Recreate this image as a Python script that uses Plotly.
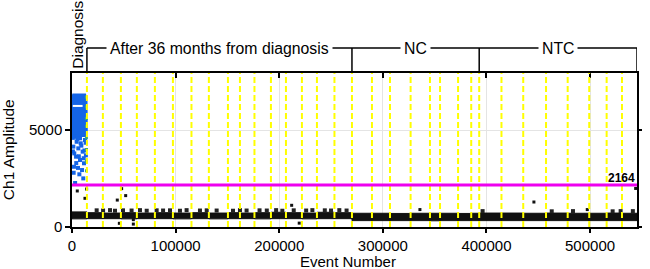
import plotly.graph_objects as go

# ---------------- data ----------------
# well boundaries (event number)
well_edges = [0, 14400, 29800, 47200, 62600, 80000, 97400, 115300, 132100, 150500,
              162100, 176100, 192000, 206500, 221900, 236400, 253300, 270200, 289500,
              306900, 326800, 345500, 355200, 372600, 385300, 393000, 414500, 435500,
              457500, 478400, 499200, 516000, 530800, 545300]

# negative droplet band per well (low / high amplitude)
neg_low = [420, 430, 430, 420, 430, 430, 420, 430, 420, 430, 430, 420, 430, 430, 420, 430, 430,
           330, 330, 330, 330, 320, 330, 330, 330,
           330, 330, 330, 330, 330, 330, 330, 330]
neg_high = [780, 740, 720, 740, 720, 740, 720, 740, 720, 740, 720, 740, 760, 740, 720, 760, 740,
            710, 710, 700, 710, 710, 710, 700, 710,
            720, 720, 710, 720, 710, 710, 720, 710]

# droplets sticking out on top of the negative band
bump_x = [23800, 30000, 36700, 41500, 49200, 57500, 65600, 72100, 81700, 87900, 94600,
          104200, 110600, 123500, 130000, 139600, 155400, 162100, 168500, 181000, 188000,
          197000, 203000, 214000, 226000, 232000, 244000, 250000, 258000, 265000,
          396300, 463000, 483500, 521800, 529500, 541300]
bump_y = [860, 850, 870, 840, 860, 850, 870, 840, 860, 850, 860,
          840, 870, 850, 860, 850, 840, 870, 850, 860, 850,
          870, 840, 860, 850, 870, 860, 850, 870, 850,
          820, 810, 820, 810, 820, 820]

# positive cluster (dense body) outline
pos_poly_x = [400, 1500, 12300, 13500, 13800, 13400, 400, 400]
pos_poly_y = [6600, 6820, 6820, 6550, 5000, 4720, 4720, 6600]
# scattered positive droplets
pos_x = [2900, 7700, 10900, 4500, 8400, 12500, 1300, 6100, 10300, 3900, 7700, 11600,
         1900, 9700, 7100, 10900, 3000, 5200, 9000, 12000, 2200, 6600, 11300, 4100,
         800, 13200, 900, 13400, 5800, 1600]
pos_y = [4660, 4580, 4750, 4400, 4320, 4490, 4150, 4060, 3890, 3630, 3460, 3290,
         3110, 2940, 2720, 2510, 2270, 4550, 4200, 3950, 3800, 3650, 3550, 3300,
         4600, 4350, 3900, 3700, 3050, 2800]
# intermediate (green) droplets on the edge of the diagnosis well
mid_x = [13900, 14000, 13900, 14000, 13900, 14000, 13900, 14000]
mid_y = [6700, 6200, 5600, 5200, 4600, 4000, 3400, 2900]

# outlier (black) droplets
out_x = [5100, 12500, 14100, 43700, 47900, 51800, 45700, 59200, 59200, 212000, 219300,
         335800, 445800, 497300, 544000]
out_y = [1860, 1480, 1960, 1390, 1980, 1620, 190, 150, 380, 1120, 200,
         900, 1290, 900, 1990]

# cluster marker (white dash) inside the positive cloud
mark_x = [5500]
mark_y = [6250]

threshold = 2164

x_ticks = [0, 100000, 200000, 300000, 400000, 500000]
y_ticks = [0, 5000]

groups = ["After 36 months from diagnosis", "NC", "NTC"]
group_start = [14400, 270200, 393000]
group_end = [270200, 393000, 545300]

X_MAX = 545300
Y_MAX = 7950

# ---------------- figure ----------------
fig = go.Figure()

# negative band as per-well rectangles
bx, by = [], []
for i in range(len(well_edges) - 1):
    x0, x1 = well_edges[i], well_edges[i + 1]
    lo, hi = neg_low[i], neg_high[i]
    bx += [x0, x1, x1, x0, x0, None]
    by += [lo, lo, hi, hi, lo, None]
fig.add_trace(go.Scatter(x=bx, y=by, mode="lines", fill="toself",
                         fillcolor="#111111", line=dict(color="#111111", width=1),
                         hoverinfo="skip", showlegend=False))
fig.add_trace(go.Scatter(x=bump_x, y=bump_y, mode="markers",
                         marker=dict(symbol="square", size=4, color="#222222"),
                         showlegend=False))

# positive cluster body
fig.add_trace(go.Scatter(x=pos_poly_x, y=pos_poly_y, mode="lines", fill="toself",
                         fillcolor="#1464E6", line=dict(color="#1464E6", width=3),
                         hoverinfo="skip", showlegend=False))
fig.add_trace(go.Scatter(x=pos_x, y=pos_y, mode="markers",
                         marker=dict(symbol="square", size=4, color="#1464E6"),
                         showlegend=False))
fig.add_trace(go.Scatter(x=mid_x, y=mid_y, mode="markers",
                         marker=dict(symbol="square", size=3, color="#3AA67A"),
                         showlegend=False))
fig.add_trace(go.Scatter(x=out_x, y=out_y, mode="markers",
                         marker=dict(symbol="square", size=3, color="#111111"),
                         showlegend=False))
fig.add_trace(go.Scatter(x=mark_x, y=mark_y, mode="markers",
                         marker=dict(symbol="line-ew", size=7,
                                     line=dict(color="white", width=2)),
                         showlegend=False))

shapes = []
# yellow dashed well separators
for e in well_edges[1:-1]:
    shapes.append(dict(type="line", xref="x", yref="paper", x0=e, x1=e, y0=0, y1=1,
                       line=dict(color="#FFFF00", width=2, dash="6px,3px"), layer="above"))
# threshold
shapes.append(dict(type="line", xref="paper", yref="y", x0=0, x1=1, y0=threshold, y1=threshold,
                   line=dict(color="#EE00EE", width=3), layer="above"))
# group brackets
YB = 1.162
YD = 1.013
shapes.append(dict(type="line", xref="x", yref="paper", x0=group_start[0], x1=group_end[-1],
                   y0=YB, y1=YB, line=dict(color="black", width=1.5)))
for e in group_start + [group_end[-1]]:
    shapes.append(dict(type="line", xref="x", yref="paper", x0=e, x1=e, y0=YD, y1=YB,
                       line=dict(color="black", width=1.5)))

annotations = []
for g, s, e in zip(groups, group_start, group_end):
    annotations.append(dict(x=(s + e) / 2, y=YB, xref="x", yref="paper", text=g,
                            xanchor="center", yanchor="middle",
                            showarrow=False, bgcolor="white", borderpad=3,
                            font=dict(size=15.8, color="black")))
annotations.append(dict(x=5600, y=1.247, xref="x", yref="paper", text="Diagnosis",
                        xanchor="center", yanchor="middle",
                        textangle=-90, showarrow=False, font=dict(size=15.5, color="black")))
annotations.append(dict(x=X_MAX, y=threshold, xref="x", yref="y", text="<b>2164</b>",
                        xanchor="right", yanchor="bottom", showarrow=False, yshift=-2,
                        font=dict(size=12, color="black")))
# axis titles
annotations.append(dict(x=0.488, y=-0.221, xref="paper", yref="paper", text="Event Number",
                        xanchor="center", yanchor="middle",
                        showarrow=False, font=dict(size=15, color="black")))
annotations.append(dict(x=-0.113, y=0.5, xref="paper", yref="paper", text="Ch1 Amplitude",
                        xanchor="center", yanchor="middle",
                        textangle=-90, showarrow=False, font=dict(size=15.5, color="black")))

fig.update_layout(
    width=650, height=269,
    margin=dict(l=72, r=13, t=73, b=42, autoexpand=False),
    paper_bgcolor="white", plot_bgcolor="white",
    font=dict(family="Liberation Sans, Arial, sans-serif", size=15, color="black"),
    shapes=shapes, annotations=annotations,
    xaxis=dict(range=[0, X_MAX], tickvals=x_ticks, ticktext=[str(v) for v in x_ticks],
               showline=True, linecolor="black", linewidth=1.5, mirror=True,
               ticks="outside", ticklen=4, tickcolor="black", tickwidth=1.5,
               showgrid=True, gridcolor="#E4E4E4", zeroline=False, automargin=False),
    yaxis=dict(range=[0, Y_MAX], tickvals=y_ticks, ticktext=[str(v) for v in y_ticks],
               showline=True, linecolor="black", linewidth=1.5, mirror=True,
               ticks="outside", ticklen=5, tickcolor="black", tickwidth=1.5,
               showgrid=True, gridcolor="#E4E4E4", zeroline=False, automargin=False),
    xaxis2=dict(range=[0, X_MAX], tickvals=x_ticks, overlaying="x", side="top",
                showticklabels=False, ticks="inside", ticklen=5, tickcolor="black",
                tickwidth=1.5, showgrid=False, zeroline=False, showline=False,
                automargin=False),
    yaxis2=dict(range=[0, Y_MAX], tickvals=y_ticks, overlaying="y", side="right",
                showticklabels=False, ticks="outside", ticklen=4, tickcolor="black",
                tickwidth=1.5, showgrid=False, zeroline=False, showline=False,
                automargin=False),
)
# dummy trace to activate secondary axes
fig.add_trace(go.Scatter(x=[None], y=[None], xaxis="x2", yaxis="y2", showlegend=False))

fig.write_html("out.html", config={"displayModeBar": False},
               post_script="document.body.style.margin='0';document.body.style.padding='0';")
